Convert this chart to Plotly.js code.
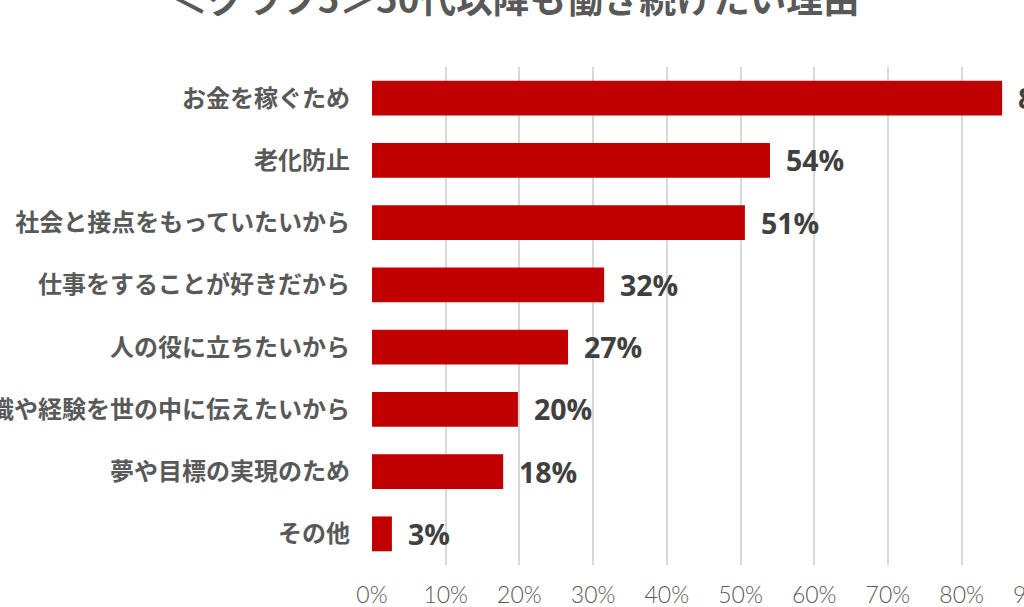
<!DOCTYPE html>
<html>
<head>
<meta charset="utf-8">
<script src="https://cdn.plot.ly/plotly-3.0.1.min.js"></script>
<style>
html, body { margin: 0; padding: 0; overflow: hidden; background: #fff; width: 1024px; height: 607px; }
#chart { position: absolute; left: 0; top: 0; width: 1130px; height: 607px; }
</style>
</head>
<body>
<div id="chart"></div>
<script>
// Data
const titleText = "＜グラフ5＞50代以降も働き続けたい理由";
const categories = [
  "お金を稼ぐため",
  "老化防止",
  "社会と接点をもっていたいから",
  "仕事をすることが好きだから",
  "人の役に立ちたいから",
  "知識や経験を世の中に伝えたいから",
  "夢や目標の実現のため",
  "その他"
];
const values = [85.5, 54.0, 50.6, 31.5, 26.6, 19.8, 17.8, 2.7];
const valueLabels = ["86%", "54%", "51%", "32%", "27%", "20%", "18%", "3%"];
const tickValues = [0, 10, 20, 30, 40, 50, 60, 70, 80, 90, 100];
const tickLabels = ["0%", "10%", "20%", "30%", "40%", "50%", "60%", "70%", "80%", "90%", "100%"];

const trace = {
  type: "bar",
  orientation: "h",
  x: values,
  y: categories,
  marker: { color: "#C00000", line: { width: 0 } },
  hoverinfo: "skip"
};

const labelAnnotations = categories.map((c, i) => ({
  x: values[i],
  y: c,
  xref: "x",
  yref: "y",
  text: valueLabels[i],
  showarrow: false,
  xanchor: "left",
  yanchor: "middle",
  xshift: 14,
  font: { family: "Open Sans, sans-serif", size: 28.5, color: "#404040", weight: 700 }
}));

const layout = {
  width: 1130,
  height: 607,
  margin: { l: 372, r: 21, t: 67, b: 42 },
  paper_bgcolor: "#ffffff",
  plot_bgcolor: "#ffffff",
  showlegend: false,
  bargap: 0.44,
  xaxis: {
    range: [0, 100],
    tickvals: tickValues,
    ticktext: tickLabels,
    showgrid: true,
    gridcolor: "#D9D9D9",
    gridwidth: 2,
    zeroline: false,
    showline: false,
    ticks: "",
    ticklabelstandoff: 14,
    tickfont: { family: "Lato, DejaVu Sans, sans-serif", size: 23, color: "#595959", weight: 300 },
    fixedrange: true
  },
  yaxis: {
    type: "category",
    autorange: "reversed",
    showgrid: false,
    zeroline: false,
    showline: false,
    ticks: "",
    ticklabelstandoff: 21,
    tickfont: { family: "Noto Sans CJK JP, sans-serif", size: 24, color: "#595959", weight: 700 },
    fixedrange: true
  },
  annotations: labelAnnotations.concat([{
    xref: "paper",
    yref: "paper",
    x: (515 - 372) / 737,
    y: 1.14,
    xanchor: "center",
    yanchor: "middle",
    showarrow: false,
    text: titleText,
    font: { family: "Noto Sans CJK JP, sans-serif", size: 36.7, color: "#595959", weight: 700 }
  }])
};

Plotly.newPlot("chart", [trace], layout, { staticPlot: true, displayModeBar: false });
</script>
</body>
</html>
